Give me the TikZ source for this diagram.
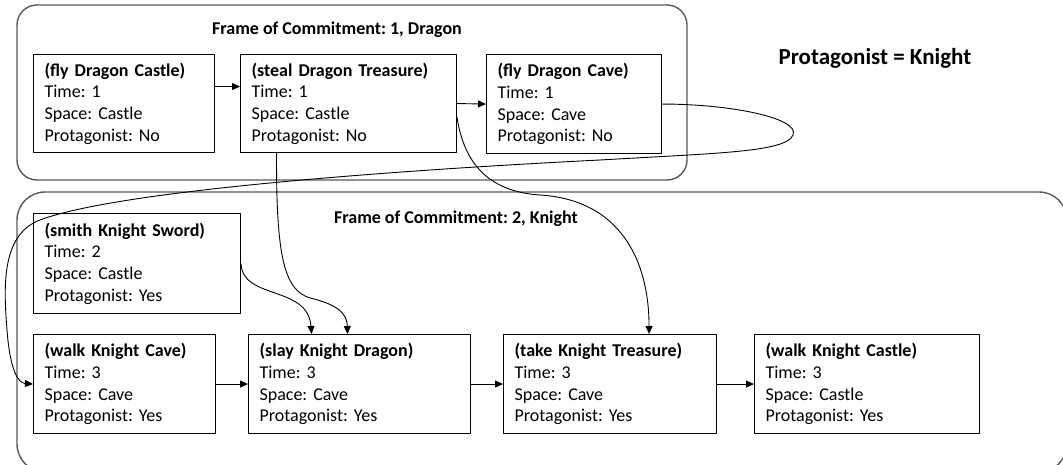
\documentclass[tikz,border=0pt]{standalone}
\usepackage{fontspec}
\setmainfont{Carlito}
\frenchspacing
\usetikzlibrary{arrows.meta}
\tikzset{
  event/.style={draw,line width=1.1pt,anchor=north west,align=left,inner xsep=11pt,inner ysep=0pt,
    font=\fontsize{18}{21.7}\selectfont},
  frame/.style={draw=black!65,line width=1.4pt},
  lbl/.style={font=\fontsize{18}{21.7}\selectfont\bfseries},
  conn/.style={->,line width=0.9pt}
}
\begin{document}
\begin{tikzpicture}[x=1pt,y=1pt,line join=round,>={Triangle[length=8pt,width=7pt]}]
	\useasboundingbox (0,0) rectangle (1063,-465);
	% the two frames
	\draw[frame,rounded corners=20pt] (17,-5) rectangle (687,-180);
	\draw[frame,rounded corners=28pt] (17,-192) rectangle (1067,-472);
	\node[lbl,anchor=base] (fc1) at (337,-35) {Frame of Commitment: 1, Dragon};
	\node[lbl,anchor=base] (fc2) at (456,-224) {Frame of Commitment: 2, Knight};
	\node[anchor=base west,font=\fontsize{23}{27}\selectfont\bfseries] (prot) at (775,-65) {Protagonist = Knight};
	% dragon
	\node[event,text width=159pt,minimum height=98pt] (flyCastle) at (33,-54) {\textbf{(fly Dragon Castle)}\\Time: 1\\Space: Castle\\Protagonist: No};
	\node[event,text width=194pt,minimum height=98pt] (steal) at (240,-54) {\textbf{(steal Dragon Treasure)}\\Time: 1\\Space: Castle\\Protagonist: No};
	\node[event,text width=153pt,minimum height=99pt] (flyCave) at (486,-54) {\textbf{(fly Dragon Cave)}\\Time: 1\\Space: Cave\\Protagonist: No};
	% knight
	\node[event,text width=185pt,minimum height=100pt] (smith) at (33,-213) {\textbf{(smith Knight Sword)}\\Time: 2\\Space: Castle\\Protagonist: Yes};
	\node[event,text width=160pt,minimum height=99pt] (walkCave) at (33,-334) {\textbf{(walk Knight Cave)}\\Time: 3\\Space: Cave\\Protagonist: Yes};
	\node[event,text width=200pt,minimum height=99pt] (slay) at (248,-334) {\textbf{(slay Knight Dragon)}\\Time: 3\\Space: Cave\\Protagonist: Yes};
	\node[event,text width=191pt,minimum height=99pt] (take) at (503,-334) {\textbf{(take Knight Treasure)}\\Time: 3\\Space: Cave\\Protagonist: Yes};
	\node[event,text width=203pt,minimum height=99pt] (walkCastle) at (754,-334) {\textbf{(walk Knight Castle)}\\Time: 3\\Space: Castle\\Protagonist: Yes};
	% straight links
	\draw[conn] ([yshift=17pt]flyCastle.east) -- ([yshift=17pt]steal.west);
	\foreach \a/\b in {steal/flyCave,walkCave/slay,slay/take,take/walkCastle}
		\draw[conn] (\a.east) -- (\b.west);
	% curved links
	\draw[conn] ([xshift=-72pt]steal.south) .. controls (276,-260) and (285,-290) .. (310,-298)
		.. controls (340,-305) and (347,-315) .. ([xshift=-12pt]slay.north);
	\draw[conn] (smith.east) .. controls (242,-300) and (308,-285) .. ([xshift=-48pt]slay.north);
	\draw[conn] ([yshift=-14pt]steal.east) .. controls (465,-170) and (495,-192) .. (540,-195)
		.. controls (620,-200) and (649,-260) .. ([xshift=39pt]take.north);
	\draw[conn] (flyCave.east) .. controls (730,-104) and (800,-118) .. (793,-135)
		.. controls (786,-152) and (720,-153) .. (600,-160)
		.. controls (400,-170) and (120,-190) .. (40,-220)
		.. controls (0,-235) and (4,-290) .. (7,-330)
		.. controls (10,-370) and (18,-383) .. (walkCave.west);
\end{tikzpicture}
\end{document}
